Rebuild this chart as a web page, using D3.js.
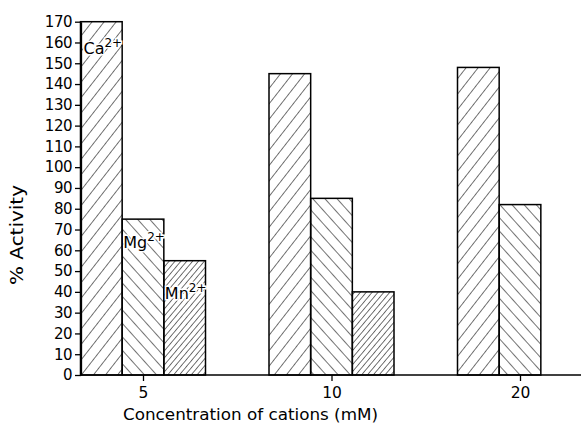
<!DOCTYPE html>
<html>
<head>
<meta charset="utf-8">
<script src="https://cdn.jsdelivr.net/npm/d3@7"></script>
<style>
  body { margin: 0; background: #fff; }
  svg { display: block; }
  .axis text { font-family: "DejaVu Sans", sans-serif; fill: #000; }
  .axis path, .axis line { stroke: #000; stroke-width: 1.3; }
</style>
</head>
<body>
<div id="chart"></div>
<script>
var w = 581;
var h = 429;

// data
var concentrations = ["5", "10", "20"];
var cations = ["Ca", "Mg", "Mn"];
var caValues = [170, 145, 148];
var mgValues = [75, 85, 82];
var mnValues = [55, 40, null];
var yTickValues = d3.range(0, 171, 10);

var rows = [];
concentrations.forEach(function(c, i) {
  rows.push({conc: c, cation: "Ca", value: caValues[i]});
  rows.push({conc: c, cation: "Mg", value: mgValues[i]});
  if (mnValues[i] != null) rows.push({conc: c, cation: "Mn", value: mnValues[i]});
});

var svg = d3.select("#chart").append("svg")
  .attr("width", w)
  .attr("height", h);

//hatch patterns
var defs = svg.append("defs");
var hatch = function(id, spacing, angle) {
  var p = defs.append("pattern")
    .attr("id", id)
    .attr("patternUnits", "userSpaceOnUse")
    .attr("width", spacing)
    .attr("height", spacing)
    .attr("patternTransform", "rotate(" + angle + ")");
  p.append("line")
    .attr("x1", 0).attr("y1", 0)
    .attr("x2", 0).attr("y2", spacing)
    .attr("stroke", "#000")
    .attr("stroke-width", 1.1);
};
hatch("hatch-Ca", 9.5, 38);
hatch("hatch-Mg", 9, -42);
hatch("hatch-Mn", 4.5, 40);

var yScale = d3.scaleLinear()
  .domain([0, 170])
  .range([375, 21.7]);

var xScale = d3.scalePoint()
  .domain(concentrations)
  .range([143, 520]);

var subScale = d3.scaleBand()
  .domain(cations)
  .range([-62.5, 62.5]);

//bars
svg.selectAll("rect.bar")
  .data(rows)
  .enter()
  .append("rect")
  .attr("class", "bar")
  .attr("x", function(d) { return xScale(d.conc) + subScale(d.cation); })
  .attr("y", function(d) { return yScale(d.value); })
  .attr("width", subScale.bandwidth())
  .attr("height", function(d) { return yScale(0) - yScale(d.value); })
  .attr("fill", function(d) { return "url(#hatch-" + d.cation + ")"; })
  .attr("stroke", "#000")
  .attr("stroke-width", 1.5);

//ion labels on the 5 mM group
var labelOffset = {Ca: [3, 32], Mg: [1, 29], Mn: [1, 38]};
rows.filter(function(d) { return d.conc == "5"; }).forEach(function(d) {
  var t = svg.append("text")
    .attr("x", xScale(d.conc) + subScale(d.cation) + labelOffset[d.cation][0])
    .attr("y", yScale(d.value) + labelOffset[d.cation][1])
    .attr("font-family", "DejaVu Sans")
    .attr("font-size", "16px")
    .attr("fill", "#000")
    .attr("stroke", "#fff")
    .attr("stroke-width", 3)
    .attr("paint-order", "stroke");
  t.append("tspan").text(d.cation);
  t.append("tspan")
    .attr("dy", -7)
    .attr("font-size", "12px")
    .text("2+");
});

//Y axis
var yAxis = d3.axisLeft(yScale)
  .tickValues(yTickValues)
  .tickSize(6)
  .tickPadding(3)
  .tickSizeOuter(0);

svg.append("g")
  .attr("class", "axis")
  .attr("transform", "translate(81,0)")
  .call(yAxis)
  .selectAll("text")
  .attr("font-size", "15px")
  .attr("letter-spacing", "-0.5px");

//X axis
var xAxis = d3.axisBottom(xScale)
  .tickSize(6)
  .tickPadding(6)
  .tickSizeOuter(0);

var gx = svg.append("g")
  .attr("class", "axis")
  .attr("transform", "translate(0," + yScale(0) + ")")
  .call(xAxis);
gx.select(".domain").remove();
gx.selectAll("text").attr("font-size", "15.5px");

svg.append("line")
  .attr("x1", 81)
  .attr("x2", w)
  .attr("y1", yScale(0))
  .attr("y2", yScale(0))
  .attr("stroke", "#000")
  .attr("stroke-width", 1.3);

//axis titles
svg.append("text")
  .text("Concentration of cations (mM)")
  .attr("x", 123)
  .attr("y", 420)
  .attr("textLength", 255)
  .attr("lengthAdjust", "spacingAndGlyphs")
  .attr("font-family", "DejaVu Sans")
  .attr("font-size", "16px");

svg.append("text")
  .text("% Activity")
  .attr("transform", "translate(23,235) rotate(-90)")
  .attr("text-anchor", "middle")
  .attr("textLength", 100)
  .attr("lengthAdjust", "spacingAndGlyphs")
  .attr("font-family", "DejaVu Sans")
  .attr("font-size", "17px");
</script>
</body>
</html>
